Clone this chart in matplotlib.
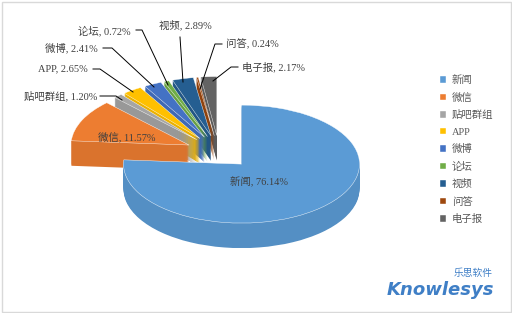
import matplotlib
matplotlib.use("Agg")
from matplotlib import pyplot as plt
from matplotlib.colors import to_rgb
import numpy as np

# chart data
labels = ["新闻", "微信", "贴吧群组", "APP", "微博", "论坛", "视频", "问答", "电子报"]
shares = [76.14, 11.57, 1.20, 2.65, 2.41, 0.72, 2.89, 0.24, 2.17]
colors = ["#5B9BD5", "#ED7D31", "#A5A5A5", "#FFC000", "#4472C4",
          "#70AD47", "#255E91", "#9E480E", "#636363"]

W, H = 512, 313
fig = plt.figure(figsize=(W / 100, H / 100), dpi=100)
fig.patch.set_facecolor("white")

# axes in pixel units, y doubled so circles come out as flat ellipses
ax = fig.add_axes([0, 0, 1, 1])
squash = 0.5
cx, cy = 219, 152        # pie centre in pixels
r = 118
depth = 25
explode = [0.28 * r] * len(shares)   # pie() takes this in data units


def py(p):
    return (H - p) / squash


fonts = ["Liberation Serif", "Noto Sans CJK SC"]

# side of the pie: stacked copies, a bit darker
side = [tuple(np.array(to_rgb(c)) * 0.92) for c in colors]
for k in range(depth, 0, -1):
    ax.pie(shares, colors=side, radius=r, center=(cx, py(cy + k)),
           startangle=90, counterclock=False, explode=explode,
           wedgeprops=dict(linewidth=0), frame=True)

# top face
wedges, _ = ax.pie(shares, colors=colors, radius=r, center=(cx, py(cy)),
                   startangle=90, counterclock=False, explode=explode,
                   wedgeprops=dict(linewidth=0.3, edgecolor="white"), frame=True)

ax.set_aspect("auto")
ax.set_xlim(0, W)
ax.set_ylim(0, H / squash)
ax.axis("off")


def fx(x, y):
    return x / W, 1 - y / H


# labels inside
fig.text(*fx(259, 182), "新闻, 76.14%", family=fonts, fontsize=7.5,
         color="#404040", ha="center", va="center")
fig.text(*fx(127, 137), "微信, 11.57%", family=fonts, fontsize=7.5,
         color="#404040", ha="center", va="center")

# outside labels with leader lines
outside = [
    ("贴吧群组, 1.20%", (97, 96), [(100, 96), (116, 96), (122, 100)]),
    ("APP, 2.65%", (88, 69), [(93, 69), (100, 69), (133, 92)]),
    ("微博, 2.41%", (98, 48), [(103, 48), (112, 48), (154, 87)]),
    ("论坛, 0.72%", (131, 31), [(136, 30), (142, 30), (168, 85)]),
    ("视频, 2.89%", (212, 25), [(180, 37), (183, 82)]),
]
for txt, (tx, ty), pts in outside:
    fig.text(*fx(tx, ty), txt, family=fonts, fontsize=7.5,
             color="#404040", ha="right", va="center")
    xs = [p[0] / W for p in pts]
    ys = [1 - p[1] / H for p in pts]
    fig.add_artist(plt.Line2D(xs, ys, color="black", lw=0.7,
                              transform=fig.transFigure))

right_side = [
    ("问答, 0.24%", (226, 44), [(222, 44), (215, 44), (200, 89)]),
    ("电子报, 2.17%", (242, 67), [(238, 67), (231, 67), (213, 81)]),
]
for txt, (tx, ty), pts in right_side:
    fig.text(*fx(tx, ty), txt, family=fonts, fontsize=7.5,
             color="#404040", ha="left", va="center")
    xs = [p[0] / W for p in pts]
    ys = [1 - p[1] / H for p in pts]
    fig.add_artist(plt.Line2D(xs, ys, color="black", lw=0.7,
                              transform=fig.transFigure))

# legend
leg = fig.legend(wedges, labels, loc="upper left",
                 bbox_to_anchor=fx(436, 71), frameon=False,
                 prop=dict(family=fonts, size=7.5), labelcolor="#595959",
                 handlelength=0.6, handleheight=0.6, handletextpad=0.5,
                 labelspacing=0.72, borderaxespad=0)

# logo
fig.text(*fx(440, 290), "Knowlesys", fontsize=13, fontweight="heavy",
         fontstyle="italic", color="#3f7fc6", family="DejaVu Sans",
         ha="center", va="center")
fig.text(*fx(473, 273), "乐思软件", fontsize=7, color="#3f7fc6",
         family=["Noto Sans CJK SC"], ha="center", va="center")

# chart border
fig.add_artist(plt.Rectangle((1.5 / W, 1.5 / H), 1 - 3 / W, 1 - 3 / H,
                             fill=False, ec="#d9d9d9", lw=1,
                             transform=fig.transFigure))

fig.savefig("out.png", dpi=100)
